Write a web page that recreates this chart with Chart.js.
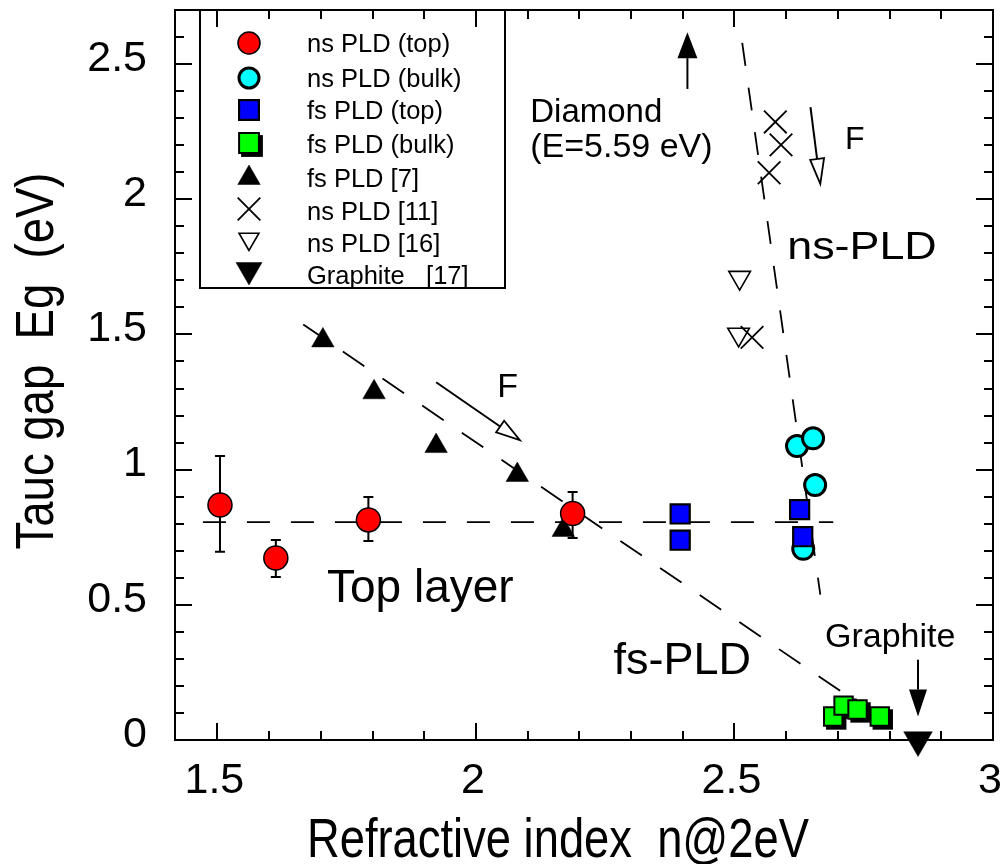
<!DOCTYPE html>
<html>
<head>
<meta charset="utf-8">
<title>Tauc gap vs refractive index</title>
<script src="https://cdn.jsdelivr.net/npm/chart.js@4.4.1/dist/chart.umd.min.js"></script>
<style>
  html, body { margin: 0; padding: 0; background: #fff; }
  canvas { display: block; }
</style>
</head>
<body>
<canvas id="chart" width="1001" height="864"></canvas>
<script>
// ---- data: refractive index n (at 2 eV) vs Tauc gap Eg (eV) ----
const nsTopN      = [1.505, 1.613, 1.792, 2.187];
const nsTopEg     = [0.869, 0.673, 0.814, 0.838];
const nsTopEgHigh = [1.050, 0.740, 0.899, 0.917];
const nsTopEgLow  = [0.696, 0.603, 0.736, 0.747];

const nsBulkN  = [2.621, 2.652, 2.656, 2.633];
const nsBulkEg = [1.087, 1.116, 0.943, 0.707];

const fsTopN  = [2.395, 2.395, 2.626, 2.632];
const fsTopEg = [0.836, 0.739, 0.852, 0.752];

const fsBulkN  = [2.691, 2.711, 2.738, 2.781];
const fsBulkEg = [0.087, 0.127, 0.113, 0.087];

const fsRef7N  = [1.704, 1.803, 1.923, 2.080, 2.169];
const fsRef7Eg = [1.478, 1.286, 1.087, 0.980, 0.777];

const nsRef11N  = [2.579, 2.590, 2.567, 2.534];
const nsRef11Eg = [2.286, 2.201, 2.098, 1.489];

const nsRef16N  = [2.510, 2.508];
const nsRef16Eg = [1.710, 1.500];

const graphiteN  = [2.855];
const graphiteEg = [0];

// guide lines
const topLayerN  = [1.472, 2.691];
const topLayerEg = [0.806, 0.806];
const fsTrendN   = [1.666, 2.718];
const fsTrendEg  = [1.537, 0.164];
const nsTrendN   = [2.515, 2.666];
const nsTrendEg  = [2.578, 0.538];

// axes
const xTickValues = [1.5, 2, 2.5, 3];
const yTickValues = [0, 0.5, 1, 1.5, 2, 2.5];
const seriesNames = ['ns PLD (top)', 'ns PLD (bulk)', 'fs PLD (top)', 'fs PLD (bulk)',
                     'fs PLD [7]', 'ns PLD [11]', 'ns PLD [16]', 'Graphite   [17]'];

// ---- helpers ----
const FONT = '"Liberation Sans", Arial, Helvetica, sans-serif';
const pts = (xs, ys) => xs.map((x, i) => ({ x: x, y: ys[i] }));
const fmt = v => String(Math.round(v * 100) / 100);

Chart.defaults.font.family = FONT;
Chart.defaults.color = '#000';

function marker(ctx, style, x, y, r, fill, stroke, bw, rot) {
  ctx.save();
  ctx.beginPath();
  const rad = (rot || 0) * Math.PI / 180;
  if (style === 'circle') {
    ctx.arc(x, y, r, 0, Math.PI * 2);
  } else if (style === 'rect') {
    const s = Math.SQRT1_2 * r;
    ctx.rect(x - s, y - s, 2 * s, 2 * s);
  } else if (style === 'triangle') {
    let a = rad;
    ctx.moveTo(x + Math.sin(a) * r, y - Math.cos(a) * r);
    a += 2 * Math.PI / 3;
    ctx.lineTo(x + Math.sin(a) * r, y - Math.cos(a) * r);
    a += 2 * Math.PI / 3;
    ctx.lineTo(x + Math.sin(a) * r, y - Math.cos(a) * r);
    ctx.closePath();
  } else if (style === 'crossRot') {
    const o = Math.SQRT1_2 * r;
    ctx.moveTo(x - o, y - o); ctx.lineTo(x + o, y + o);
    ctx.moveTo(x + o, y - o); ctx.lineTo(x - o, y + o);
  }
  if (fill && style !== 'crossRot') { ctx.fillStyle = fill; ctx.fill(); }
  if (bw > 0) { ctx.lineWidth = bw; ctx.strokeStyle = stroke; ctx.stroke(); }
  ctx.restore();
}

const datasets = [
  { label: seriesNames[0], data: pts(nsTopN, nsTopEg), errHigh: nsTopEgHigh, errLow: nsTopEgLow,
    pointStyle: 'circle', pointRadius: 12, pointBackgroundColor: '#ff0000',
    pointBorderColor: '#000', pointBorderWidth: 1.5, order: 0, inLegend: true,
    legendSym: { r: 11, dy: 0 } },
  { label: seriesNames[1], data: pts(nsBulkN, nsBulkEg),
    pointStyle: 'circle', pointRadius: 10.5, pointBackgroundColor: '#00ffff',
    pointBorderColor: '#000', pointBorderWidth: 3, order: 2, inLegend: true,
    legendSym: { r: 10, dy: 0 } },
  { label: seriesNames[2], data: pts(fsTopN, fsTopEg),
    pointStyle: 'rect', pointRadius: 13.5, pointBackgroundColor: '#0000ff',
    pointBorderColor: '#000', pointBorderWidth: 2.2, order: 1, inLegend: true,
    legendSym: { r: 14, dy: 0 } },
  { label: seriesNames[3], data: pts(fsBulkN, fsBulkEg), shadow: 3,
    pointStyle: 'rect', pointRadius: 13, pointBackgroundColor: '#00ff00',
    pointBorderColor: '#000', pointBorderWidth: 2, order: 3, inLegend: true,
    legendSym: { r: 14, dy: -1 } },
  { label: seriesNames[4], data: pts(fsRef7N, fsRef7Eg),
    pointStyle: 'triangle', pointRadius: 13, pointBackgroundColor: '#000',
    pointBorderColor: '#000', pointBorderWidth: 0.5, order: 4, inLegend: true,
    legendSym: { r: 13, dy: 0 } },
  { label: seriesNames[5], data: pts(nsRef11N, nsRef11Eg),
    pointStyle: 'crossRot', pointRadius: 16, pointBackgroundColor: '#000',
    pointBorderColor: '#000', pointBorderWidth: 1.8, order: 5, inLegend: true,
    legendSym: { r: 16, dy: -2 } },
  { label: seriesNames[6], data: pts(nsRef16N, nsRef16Eg),
    pointStyle: 'triangle', pointRotation: 180, pointRadius: 12.5, pointBackgroundColor: '#fff',
    pointBorderColor: '#000', pointBorderWidth: 1.6, order: 6, inLegend: true,
    legendSym: { r: 11.5, dy: -4 } },
  { label: seriesNames[7], data: pts(graphiteN, graphiteEg),
    pointStyle: 'triangle', pointRotation: 180, pointRadius: 16.5, pointBackgroundColor: '#000',
    pointBorderColor: '#000', pointBorderWidth: 0.5, order: 7, inLegend: true,
    legendSym: { r: 15, dy: -5 } },
  // dashed guide lines
  { label: 'top layer', data: pts(topLayerN, topLayerEg), showLine: true, pointRadius: 0,
    borderColor: '#000', borderWidth: 1.8, borderDash: [23, 21], order: 20 },
  { label: 'fs trend', data: pts(fsTrendN, fsTrendEg), showLine: true, pointRadius: 0,
    borderColor: '#000', borderWidth: 1.8, borderDash: [26, 22], order: 21 },
  { label: 'ns trend', data: pts(nsTrendN, nsTrendEg), showLine: true, pointRadius: 0,
    borderColor: '#000', borderWidth: 1.8, borderDash: [23, 22], order: 22 }
];
datasets.forEach(d => { d.clip = false; d.pointHoverRadius = d.pointRadius; });

// annotation texts (anchor: left end of baseline, in data units)
const notes = [
  { text: 'Diamond',     at: [2.105, 2.286], size: 33 },
  { text: '(E=5.59 eV)', at: [2.105, 2.157], size: 34 },
  { text: 'F',           at: [2.714, 2.186], size: 32 },
  { text: 'F',           at: [2.041, 1.268], size: 34 },
  { text: 'ns-PLD',      at: [2.602, 1.780], size: 39, sx: 1.15 },
  { text: 'Top layer',   at: [1.712, 0.511], size: 46 },
  { text: 'fs-PLD',      at: [2.266, 0.245], size: 45 },
  { text: 'Graphite',    at: [2.675, 0.345], size: 34 }
];

const arrows = [
  { from: [2.409, 2.408], to: [2.409, 2.618], head: 26, width: 20, filled: true },
  { from: [2.647, 2.341], to: [2.666, 2.057], head: 25, width: 14, filled: false },
  { from: [1.923, 1.323], to: [2.085, 1.109], head: 24, width: 14, filled: false },
  { from: [2.855, 0.297], to: [2.855, 0.087], head: 27, width: 18, filled: true }
];

function drawArrow(ctx, x1, y1, x2, y2, head, width, filled) {
  const len = Math.hypot(x2 - x1, y2 - y1);
  const ux = (x2 - x1) / len, uy = (y2 - y1) / len;
  const bx = x2 - ux * head, by = y2 - uy * head;
  ctx.save();
  ctx.strokeStyle = '#000';
  ctx.lineWidth = 2;
  ctx.beginPath();
  ctx.moveTo(x1, y1);
  ctx.lineTo(bx, by);
  ctx.stroke();
  ctx.beginPath();
  ctx.moveTo(x2, y2);
  ctx.lineTo(bx - uy * width / 2, by + ux * width / 2);
  ctx.lineTo(bx + uy * width / 2, by - ux * width / 2);
  ctx.closePath();
  if (filled) { ctx.fillStyle = '#000'; ctx.fill(); }
  else { ctx.fillStyle = '#fff'; ctx.fill(); ctx.lineWidth = 1.8; ctx.stroke(); }
  ctx.restore();
}

// frame with inward ticks on all four sides
const framePlugin = {
  id: 'frame',
  beforeDatasetsDraw(chart) {
    const { ctx, chartArea: a, scales: { x, y } } = chart;
    ctx.save();
    ctx.strokeStyle = '#000';
    ctx.lineWidth = 2;
    ctx.beginPath();
    ctx.moveTo(a.left, a.top); ctx.lineTo(a.right, a.top); ctx.lineTo(a.right, a.bottom);
    ctx.stroke();
    ctx.beginPath();
    for (let i = 15; i <= 30; i++) {
      const px = Math.round(x.getPixelForValue(i / 10));
      const L = (i % 5 === 0) ? 17 : 9;
      ctx.moveTo(px, a.bottom); ctx.lineTo(px, a.bottom - L);
      ctx.moveTo(px, a.top); ctx.lineTo(px, a.top + L);
    }
    for (let i = 0; i <= 26; i++) {
      const py = Math.round(y.getPixelForValue(i / 10));
      const L = (i % 5 === 0) ? 17 : 9;
      ctx.moveTo(a.left, py); ctx.lineTo(a.left + L, py);
      ctx.moveTo(a.right, py); ctx.lineTo(a.right - L, py);
    }
    ctx.stroke();
    ctx.restore();
  }
};

// error bars and drop shadows drawn just before their own markers
const markerExtrasPlugin = {
  id: 'markerExtras',
  beforeDatasetDraw(chart, args) {
    const ds = chart.data.datasets[args.index];
    const { ctx, scales: { y } } = chart;
    const els = args.meta.data;
    ctx.save();
    if (ds.errHigh) {
      ctx.strokeStyle = '#000';
      ctx.lineWidth = 2;
      ctx.beginPath();
      els.forEach((el, i) => {
        const yt = y.getPixelForValue(ds.errHigh[i]);
        const yb = y.getPixelForValue(ds.errLow[i]);
        ctx.moveTo(el.x, yt); ctx.lineTo(el.x, yb);
        ctx.moveTo(el.x - 5, yt); ctx.lineTo(el.x + 5, yt);
        ctx.moveTo(el.x - 5, yb); ctx.lineTo(el.x + 5, yb);
      });
      ctx.stroke();
    }
    if (ds.shadow) {
      const s = Math.SQRT1_2 * ds.pointRadius + 1;
      ctx.fillStyle = '#000';
      els.forEach(el => {
        ctx.fillRect(el.x - s + ds.shadow, el.y - s + ds.shadow, 2 * s, 2 * s);
      });
    }
    ctx.restore();
  }
};

// labels, arrows, legend box and axis titles
const overlayPlugin = {
  id: 'overlay',
  afterDatasetsDraw(chart) {
    const { ctx, scales: { x, y } } = chart;
    ctx.save();
    ctx.fillStyle = '#000';
    ctx.textBaseline = 'alphabetic';
    ctx.textAlign = 'left';
    notes.forEach(n => {
      const px = x.getPixelForValue(n.at[0]);
      const py = y.getPixelForValue(n.at[1]);
      ctx.save();
      ctx.font = n.size + 'px ' + FONT;
      ctx.translate(px, py);
      ctx.scale(n.sx || 1, 1);
      ctx.fillText(n.text, 0, 0);
      ctx.restore();
    });
    arrows.forEach(a => drawArrow(ctx,
      x.getPixelForValue(a.from[0]), y.getPixelForValue(a.from[1]),
      x.getPixelForValue(a.to[0]), y.getPixelForValue(a.to[1]),
      a.head, a.width, a.filled));

    // legend
    const box = { left: 200, top: 10, right: 505, bottom: 288 };
    const rows = [43, 78, 110, 144, 178, 211, 243, 275];
    ctx.strokeStyle = '#000';
    ctx.lineWidth = 2;
    ctx.strokeRect(box.left, box.top, box.right - box.left, box.bottom - box.top);
    const legendSets = chart.data.datasets.filter(d => d.inLegend);
    legendSets.forEach((d, i) => {
      const sx = 249, sy = rows[i] + d.legendSym.dy;
      if (d.shadow) {
        const s = Math.SQRT1_2 * d.legendSym.r + 1;
        ctx.fillStyle = '#000';
        ctx.fillRect(sx - s + d.shadow, sy - s + d.shadow, 2 * s, 2 * s);
      }
      marker(ctx, d.pointStyle, sx, sy, d.legendSym.r, d.pointBackgroundColor,
             d.pointBorderColor, d.pointBorderWidth, d.pointRotation || 0);
      ctx.fillStyle = '#000';
      ctx.font = '25.5px ' + FONT;
      ctx.textAlign = 'left';
      ctx.fillText(d.label, 307, rows[i] + 9);
    });

    // axis titles in narrow lettering
    function narrowText(text, size, targetLen, cx, base, rotate) {
      ctx.save();
      ctx.font = size + 'px ' + FONT;
      const w = ctx.measureText(text).width;
      ctx.translate(cx, base);
      if (rotate) ctx.rotate(-Math.PI / 2);
      ctx.scale(targetLen / w, 1);
      ctx.textAlign = 'center';
      ctx.textBaseline = 'alphabetic';
      ctx.fillStyle = '#000';
      ctx.fillText(text, 0, 0);
      ctx.restore();
    }
    narrowText('Refractive index  n@2eV', 56, 502, 558, 857, false);
    narrowText('Tauc gap  Eg  (eV)', 53, 377, 53, 361, true);
    ctx.restore();
  }
};

new Chart(document.getElementById('chart'), {
  type: 'scatter',
  data: { datasets: datasets },
  options: {
    responsive: false,
    animation: false,
    events: [],
    layout: { autoPadding: false, padding: { top: 10, right: 8, left: 0, bottom: 0 } },
    plugins: { legend: { display: false }, tooltip: { enabled: false } },
    scales: {
      x: {
        type: 'linear', min: 1.418, max: 3.0,
        afterBuildTicks: s => { s.ticks = xTickValues.map(v => ({ value: v })); },
        afterFit: s => { s.height = 124; s.paddingLeft = 0; s.paddingRight = 0; },
        ticks: { font: { size: 43 }, padding: 15, labelOffset: -3, maxRotation: 0,
                 autoSkip: false, callback: v => fmt(v) },
        grid: { drawOnChartArea: false, drawTicks: false },
        border: { display: true, color: '#000', width: 2 }
      },
      y: {
        type: 'linear', min: 0, max: 2.7,
        afterBuildTicks: s => { s.ticks = yTickValues.map(v => ({ value: v })); },
        afterFit: s => { s.width = 175; s.paddingTop = 0; s.paddingBottom = 0; },
        ticks: { font: { size: 43 }, padding: 28, labelOffset: -5, autoSkip: false,
                 callback: v => fmt(v) },
        grid: { drawOnChartArea: false, drawTicks: false },
        border: { display: true, color: '#000', width: 2 }
      }
    }
  },
  plugins: [framePlugin, markerExtrasPlugin, overlayPlugin]
});
</script>
</body>
</html>
